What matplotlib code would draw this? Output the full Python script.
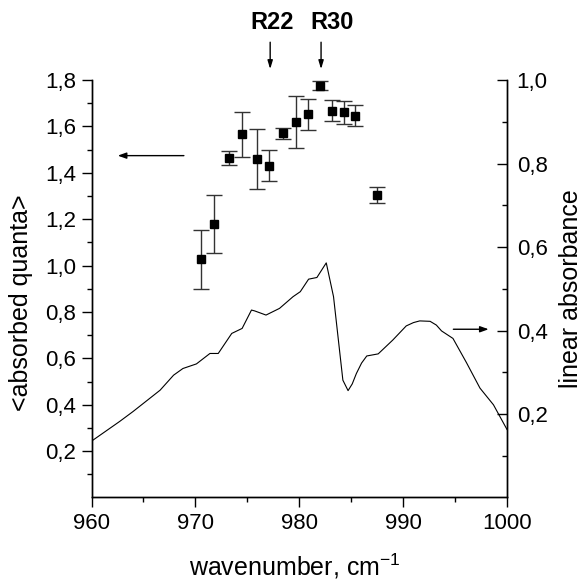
import matplotlib
matplotlib.use('Agg')
import matplotlib.pyplot as plt
from matplotlib.ticker import FuncFormatter, FixedLocator

plt.rcParams['font.family'] = ['Liberation Sans', 'DejaVu Sans']
plt.rcParams['mathtext.fontset'] = 'custom'
plt.rcParams['mathtext.rm'] = 'Liberation Sans'

# ---- data: absorbed quanta (left axis) ----
wn_pts = [970.5, 971.8, 973.2, 974.5, 975.9, 977.1, 978.4, 979.65, 980.8, 982.0, 983.2, 984.3, 985.4, 987.5]
quanta = [1.028, 1.178, 1.465, 1.566, 1.458, 1.431, 1.570, 1.619, 1.652, 1.776, 1.668, 1.661, 1.646, 1.304]
quanta_err = [0.127, 0.125, 0.030, 0.097, 0.130, 0.066, 0.024, 0.113, 0.067, 0.020, 0.045, 0.050, 0.045, 0.033]

# ---- data: linear absorbance spectrum (right axis) ----
wn_curve = [960.0, 962.7, 964.0, 966.6, 967.9, 968.8, 970.1, 971.4, 972.2, 973.5, 974.5, 975.4,
            975.7, 976.8, 978.1, 979.4, 980.1, 980.9, 981.7, 982.6, 983.3, 984.2, 984.7, 985.1,
            985.5, 986.0, 986.5, 987.6, 989.0, 990.3, 991.0, 991.6, 992.6, 993.2, 993.7, 994.8,
            996.1, 997.4, 998.7, 1000.0]
absorb = [0.135, 0.182, 0.206, 0.257, 0.293, 0.309, 0.320, 0.345, 0.345, 0.393, 0.405, 0.449,
          0.447, 0.437, 0.453, 0.481, 0.493, 0.523, 0.527, 0.562, 0.481, 0.281, 0.256, 0.272,
          0.297, 0.322, 0.339, 0.344, 0.377, 0.411, 0.419, 0.423, 0.422, 0.413, 0.399, 0.381,
          0.323, 0.262, 0.222, 0.163]

# ---- ticks / labels ----
x_ticks = [960, 970, 980, 990, 1000]
x_minor = [965, 975, 985, 995]
left_ticks = [0.2, 0.4, 0.6, 0.8, 1.0, 1.2, 1.4, 1.6, 1.8]
left_minor = [0.1, 0.3, 0.5, 0.7, 0.9, 1.1, 1.3, 1.5, 1.7]
right_ticks = [0.2, 0.4, 0.6, 0.8, 1.0]
right_minor = [0.1, 0.3, 0.5, 0.7, 0.9]
lines_labels = ['R22', 'R30']
lines_pos = [977.2, 982.1]
lines_text_pos = [977.4, 983.2]

comma = FuncFormatter(lambda v, p: f'{v:.1f}'.replace('.', ','))

fig = plt.figure(figsize=(5.83, 5.82), dpi=100)
ax = fig.add_axes([0.157, 0.1452, 0.7126, 0.7173])
ax2 = ax.twinx()

ax.set_xlim(960, 1000)
ax.set_ylim(0, 1.8)
ax2.set_ylim(0, 1.0)

ax.errorbar(wn_pts, quanta, yerr=quanta_err, fmt='s', color='black', ms=6,
            ecolor='#333333', elinewidth=1.0, capsize=5.5, capthick=1.0, zorder=3)
ax2.plot(wn_curve, absorb, color='black', lw=0.8)

for a in (ax, ax2):
    a.spines['top'].set_visible(False)
    for s in a.spines.values():
        s.set_linewidth(1.0)

ax.xaxis.set_major_locator(FixedLocator(x_ticks))
ax.xaxis.set_minor_locator(FixedLocator(x_minor))
ax.yaxis.set_major_locator(FixedLocator(left_ticks))
ax.yaxis.set_minor_locator(FixedLocator(left_minor))
ax.yaxis.set_major_formatter(comma)
ax2.yaxis.set_major_locator(FixedLocator(right_ticks))
ax2.yaxis.set_minor_locator(FixedLocator(right_minor))
ax2.yaxis.set_major_formatter(comma)

ax.tick_params(axis='x', which='major', direction='out', length=7, width=1, labelsize=16, pad=4)
ax.tick_params(axis='x', which='minor', direction='out', length=3.5, width=1)
ax.tick_params(axis='y', which='major', direction='out', length=7, width=1, labelsize=16, pad=4, right=False)
ax.tick_params(axis='y', which='minor', direction='out', length=3.5, width=1, right=False)
ax2.tick_params(axis='y', which='major', direction='in', length=7, width=1, labelsize=16, pad=7)
ax2.tick_params(axis='y', which='minor', direction='in', length=3.5, width=1)

ax.set_xlabel('wavenumber, cm$^{-1}$', fontsize=18)
ax.xaxis.set_label_coords(0.49, -0.13)
ax.set_ylabel('<absorbed quanta>', fontsize=18)
ax.yaxis.set_label_coords(-0.141, 0.467)
ax2.set_ylabel('linear absorbance', fontsize=18)
ax2.yaxis.set_label_coords(1.126, 0.5)

# arrows indicating axes
ax.annotate('', xy=(962.26, 1.474), xytext=(969.16, 1.474),
            arrowprops=dict(arrowstyle='-|>,head_length=0.5,head_width=0.18', color='black', lw=1))
ax2.annotate('', xy=(998.5, 0.403), xytext=(994.57, 0.403),
             arrowprops=dict(arrowstyle='-|>,head_length=0.5,head_width=0.18', color='black', lw=1))

# R22 / R30 markers
for lab, xp, xt in zip(lines_labels, lines_pos, lines_text_pos):
    ax.annotate('', xy=(xp, 1.835), xytext=(xp, 1.975), annotation_clip=False,
                arrowprops=dict(arrowstyle='-|>,head_length=0.5,head_width=0.15', color='black', lw=1))
    ax.text(xt, 2.05, lab, ha='center', va='center', fontsize=17, fontweight='bold', clip_on=False)

fig.savefig('out.png', dpi=100)
